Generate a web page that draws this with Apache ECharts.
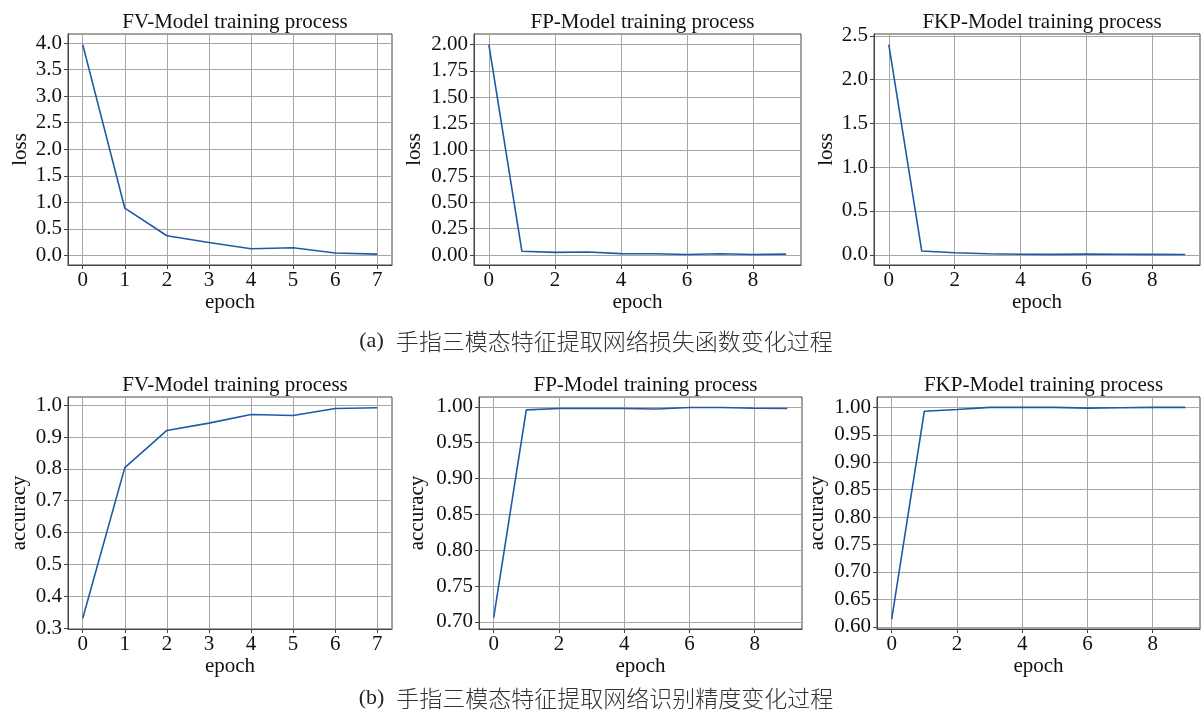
<!DOCTYPE html>
<html>
<head>
<meta charset="utf-8">
<title>training process</title>
<script src="https://cdn.jsdelivr.net/npm/echarts@6/dist/echarts.min.js"></script>
<style>
html, body { margin: 0; padding: 0; background: #fff; }
#main { width: 1202px; height: 715px; }
</style>
</head>
<body>
<div id="main"></div>
<script>
// epochs
var fvEpochs = [0, 1, 2, 3, 4, 5, 6, 7];
var fpEpochs = [0, 1, 2, 3, 4, 5, 6, 7, 8, 9];
var fkpEpochs = [0, 1, 2, 3, 4, 5, 6, 7, 8, 9];

// loss curves
var fvLoss = [3.97, 0.89, 0.37, 0.245, 0.125, 0.145, 0.045, 0.025];
var fpLoss = [2.0, 0.035, 0.025, 0.028, 0.013, 0.012, 0.005, 0.012, 0.005, 0.008];
var fkpLoss = [2.40, 0.042, 0.022, 0.011, 0.005, 0.004, 0.007, 0.005, 0.004, 0.003];

// accuracy curves
var fvAcc = [0.331, 0.804, 0.921, 0.944, 0.971, 0.968, 0.990, 0.992];
var fpAcc = [0.706, 0.9958, 0.9977, 0.9977, 0.9977, 0.997, 0.999, 0.999, 0.998, 0.9977];
var fkpAcc = [0.614, 0.993, 0.9963, 1.0, 1.0, 1.0, 0.9988, 0.9994, 1.0, 1.0];

// tick labels
var xTicks8 = [0, 1, 2, 3, 4, 5, 6, 7];
var xTicks10 = [0, 2, 4, 6, 8];
var fvLossTicks = [0, 0.5, 1, 1.5, 2, 2.5, 3, 3.5, 4];
var fpLossTicks = [0, 0.25, 0.5, 0.75, 1, 1.25, 1.5, 1.75, 2];
var fkpLossTicks = [0, 0.5, 1, 1.5, 2, 2.5];
var fvAccTicks = [0.3, 0.4, 0.5, 0.6, 0.7, 0.8, 0.9, 1.0];
var fpAccTicks = [0.70, 0.75, 0.80, 0.85, 0.90, 0.95, 1.00];
var fkpAccTicks = [0.60, 0.65, 0.70, 0.75, 0.80, 0.85, 0.90, 0.95, 1.00];

var titles = ['FV-Model training process', 'FP-Model training process', 'FKP-Model training process'];
var captionA = '手指三模态特征提取网络损失函数变化过程';
var captionB = '手指三模态特征提取网络识别精度变化过程';

var serif = '"Liberation Serif", "Times New Roman", serif';
var lineColor = '#1f5aa6';
var boxColor = '#444';
var gridColor = '#a6a6a6';

// panel layout (px) and axis ranges, matplotlib style 5% margins
var panels = [
    { box: [68, 34, 324, 231], x: fvEpochs, y: fvLoss, xt: xTicks8, yt: fvLossTicks, xr: [-0.35, 7.35], yr: [-0.18, 4.17], dec: 1, name: 'loss', gap: 37, title: titles[0] },
    { box: [474, 34, 327, 231], x: fpEpochs, y: fpLoss, xt: xTicks10, yt: fpLossTicks, xr: [-0.45, 9.45], yr: [-0.095, 2.1], dec: 2, name: 'loss', gap: 49, title: titles[1] },
    { box: [874, 34, 326, 231], x: fkpEpochs, y: fkpLoss, xt: xTicks10, yt: fkpLossTicks, xr: [-0.45, 9.45], yr: [-0.117, 2.52], dec: 1, name: 'loss', gap: 37, title: titles[2] },
    { box: [68, 397, 324, 232], x: fvEpochs, y: fvAcc, xt: xTicks8, yt: fvAccTicks, xr: [-0.35, 7.35], yr: [0.297, 1.026], dec: 1, name: 'accuracy', gap: 38, title: titles[0] },
    { box: [479, 397, 323, 232], x: fpEpochs, y: fpAcc, xt: xTicks10, yt: fpAccTicks, xr: [-0.45, 9.45], yr: [0.690, 1.0137], dec: 2, name: 'accuracy', gap: 51, title: titles[1] },
    { box: [877, 397, 323, 232], x: fkpEpochs, y: fkpAcc, xt: xTicks10, yt: fkpAccTicks, xr: [-0.45, 9.45], yr: [0.596, 1.019], dec: 2, name: 'accuracy', gap: 49, title: titles[2] }
];

var grid = [], xAxis = [], yAxis = [], series = [], title = [];

panels.forEach(function (p, i) {
    grid.push({
        left: p.box[0], top: p.box[1], width: p.box[2], height: p.box[3],
        show: true, borderColor: boxColor, borderWidth: 1, backgroundColor: 'transparent'
    });
    xAxis.push({
        type: 'value', gridIndex: i, min: p.xr[0], max: p.xr[1],
        name: 'epoch', nameLocation: 'middle', nameGap: 24,
        nameTextStyle: { fontFamily: serif, fontSize: 21, color: '#111' },
        axisLine: { show: true, onZero: false, lineStyle: { color: boxColor, width: 1 } },
        axisTick: { show: true, inside: false, length: 4, customValues: p.xt, lineStyle: { color: boxColor } },
        axisLabel: { customValues: p.xt, margin: 5, fontFamily: serif, fontSize: 21, color: '#111',
            formatter: function (v) { return String(v); } },
        splitLine: { show: true, lineStyle: { color: gridColor, width: 1 } }
    });
    yAxis.push({
        type: 'value', gridIndex: i, min: p.yr[0], max: p.yr[1],
        name: p.name, nameLocation: 'middle', nameGap: p.gap,
        nameTextStyle: { fontFamily: serif, fontSize: 21, color: '#111' },
        axisLine: { show: true, onZero: false, lineStyle: { color: boxColor, width: 1 } },
        axisTick: { show: true, inside: false, length: 4, customValues: p.yt, lineStyle: { color: boxColor } },
        axisLabel: { customValues: p.yt, margin: 6, fontFamily: serif, fontSize: 21, color: '#111',
            formatter: (function (d) { return function (v) { return v.toFixed(d); }; })(p.dec) },
        splitLine: { show: true, lineStyle: { color: gridColor, width: 1 } }
    });
    series.push({
        type: 'line', xAxisIndex: i, yAxisIndex: i,
        data: p.x.map(function (e, k) { return [e, p.y[k]]; }),
        showSymbol: false, symbol: 'none', animation: false,
        lineStyle: { color: lineColor, width: 1.6 }
    });
    title.push({
        text: p.title, left: p.box[0] + p.box[2] / 2, top: p.box[1] - 27, textAlign: 'center',
        textStyle: { fontFamily: serif, fontSize: 21, fontWeight: 'normal', color: '#111' }
    });
});

function caption(tag, text, top) {
    return {
        text: '{a|' + tag + '}{b|' + text + '}', left: 591, top: top, textAlign: 'center',
        textStyle: {
            fontWeight: 'normal',
            rich: {
                a: { fontFamily: serif, fontSize: 22, fontWeight: 'normal', color: '#222', padding: [0, 12, 0, 0] },
                b: { fontFamily: '"Noto Sans CJK SC", sans-serif', fontSize: 23, fontWeight: 300, color: '#333' }
            }
        }
    };
}
title.push(caption('(a)', captionA, 325));
title.push(caption('(b)', captionB, 682));

var chart = echarts.init(document.getElementById('main'), null, { renderer: 'canvas' });
chart.setOption({
    backgroundColor: '#fff',
    animation: false,
    title: title,
    grid: grid,
    xAxis: xAxis,
    yAxis: yAxis,
    series: series
});
</script>
</body>
</html>
